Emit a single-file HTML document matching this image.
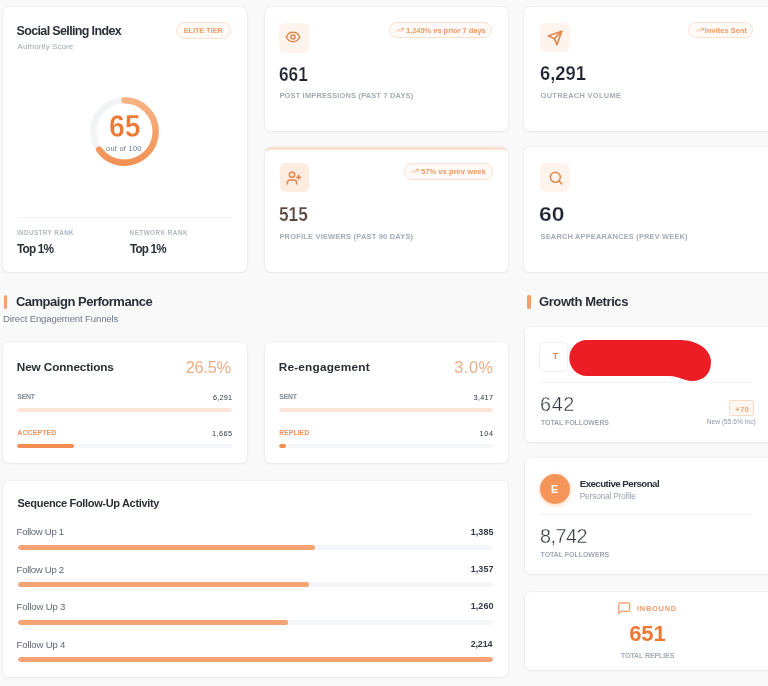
<!DOCTYPE html>
<html><head><meta charset="utf-8">
<style>
*{margin:0;padding:0;box-sizing:border-box}
html,body{width:768px;height:686px;overflow:hidden;background:#f9f9fa;font-family:"Liberation Sans",sans-serif;}
body{filter:blur(0.4px)}
.c{position:absolute;background:#fff;border-radius:6px;box-shadow:0 1px 3px rgba(30,35,45,.06),0 0 0 1px rgba(30,35,45,.028);}
.t{position:absolute;white-space:nowrap;}
.pill{position:absolute;border:1px solid #f9e1d2;border-radius:9px;background:#fffaf7}
.ico{position:absolute;border-radius:6px;background:#fef4ed}
.bar{position:absolute;border-radius:3px;background:#f5f6f9;overflow:hidden}
.fill{position:absolute;left:0;top:0;bottom:0;border-radius:3px;background:#f4a374}
.div{position:absolute;height:1px;background:#f1f2f4}
svg{position:absolute;overflow:visible}
</style></head><body>

<!-- cards -->
<div class="c" style="left:3px;top:7px;width:244px;height:264.5px"></div>
<div class="c" style="left:264.5px;top:7px;width:243.5px;height:123.5px"></div>
<div class="c" style="left:264.5px;top:147px;width:243.5px;height:124.5px;border-top:3px solid #fae2d3"></div>
<div class="c" style="left:524px;top:7px;width:252px;height:123.5px"></div>
<div class="c" style="left:524px;top:147px;width:252px;height:124.5px"></div>
<div class="c" style="left:3px;top:341.6px;width:244px;height:121.6px"></div>
<div class="c" style="left:264.5px;top:341.6px;width:243.5px;height:121.6px"></div>
<div class="c" style="left:2.5px;top:481px;width:505.5px;height:196px"></div>
<div class="c" style="left:525px;top:326.5px;width:252px;height:115.5px"></div>
<div class="c" style="left:525px;top:458.3px;width:252px;height:116.2px"></div>
<div class="c" style="left:525px;top:592px;width:252px;height:78.3px"></div>

<!-- Card A -->
<div class="pill" style="left:175.5px;top:22.3px;width:55.5px;height:16.4px"></div>
<svg style="left:89.7px;top:96.5px" width="69" height="69" viewBox="0 0 69 69">
  <circle cx="34.5" cy="34.5" r="31.2" fill="none" stroke="#f2f3f5" stroke-width="6.4"/>
  <defs><linearGradient id="dg" x1="1" y1="0" x2="0" y2="0"><stop offset="0" stop-color="#f8b285"/><stop offset="1" stop-color="#f29255"/></linearGradient></defs>
  <circle cx="34.5" cy="34.5" r="31.2" fill="none" stroke="url(#dg)" stroke-width="6.4" stroke-linecap="round" stroke-dasharray="127.4 1000" transform="rotate(-90 34.5 34.5)"/>
</svg>
<div class="div" style="left:17px;top:216.5px;width:215px"></div>

<!-- Card B -->
<div class="ico" style="left:279px;top:22.5px;width:30px;height:30px"></div>
<svg style="left:285.3px;top:29px" width="16" height="16" viewBox="0 0 24 24" fill="none" stroke="#e4874d" stroke-width="2.3" stroke-linecap="round" stroke-linejoin="round"><path d="M2 12s3-7 10-7 10 7 10 7-3 7-10 7-10-7-10-7Z"/><circle cx="12" cy="12" r="3"/></svg>
<div class="pill" style="left:389.2px;top:22.2px;width:103.3px;height:16px"></div>
<svg style="left:396px;top:25.5px" width="8" height="8" viewBox="0 0 24 24" fill="none" stroke="#ee9866" stroke-width="2.2" stroke-linecap="round" stroke-linejoin="round"><polyline points="22 7 13.5 15.5 8.5 10.5 2 17"/><polyline points="16 7 22 7 22 13"/></svg>

<!-- Card B2 -->
<div class="ico" style="left:279.5px;top:162.7px;width:29px;height:29px;background:#fdebdf"></div>
<svg style="left:285.5px;top:170.2px" width="16" height="16" viewBox="0 0 24 24" fill="none" stroke="#e4874d" stroke-width="2.3" stroke-linecap="round" stroke-linejoin="round"><path d="M16 21v-2a4 4 0 0 0-4-4H6a4 4 0 0 0-4 4v2"/><circle cx="9" cy="7" r="4"/><line x1="19" x2="19" y1="8" y2="14"/><line x1="22" x2="16" y1="11" y2="11"/></svg>
<div class="pill" style="left:403.5px;top:163.2px;width:89.3px;height:16.4px"></div>
<svg style="left:410.5px;top:166.8px" width="8" height="8" viewBox="0 0 24 24" fill="none" stroke="#ee9866" stroke-width="2.2" stroke-linecap="round" stroke-linejoin="round"><polyline points="22 7 13.5 15.5 8.5 10.5 2 17"/><polyline points="16 7 22 7 22 13"/></svg>

<!-- Card C -->
<div class="ico" style="left:540px;top:22.5px;width:30px;height:29px"></div>
<svg style="left:547.3px;top:29.7px" width="16" height="16" viewBox="0 0 24 24" fill="none" stroke="#e4874d" stroke-width="2.4" stroke-linecap="round" stroke-linejoin="round"><path d="m22 2-7 20-4-9-9-4Z"/><path d="M22 2 11 13"/></svg>
<div class="pill" style="left:688px;top:22.4px;width:65.3px;height:16.1px"></div>
<svg style="left:695.6px;top:25.7px" width="8" height="8" viewBox="0 0 24 24" fill="none" stroke="#ee9866" stroke-width="2.2" stroke-linecap="round" stroke-linejoin="round"><polyline points="22 7 13.5 15.5 8.5 10.5 2 17"/><polyline points="16 7 22 7 22 13"/></svg>

<!-- Card C2 -->
<div class="ico" style="left:540px;top:163px;width:30px;height:29px"></div>
<svg style="left:547.5px;top:169.5px" width="16" height="16" viewBox="0 0 24 24" fill="none" stroke="#e4874d" stroke-width="2.3" stroke-linecap="round" stroke-linejoin="round"><circle cx="11" cy="11" r="7.5"/><path d="m21 21-4.3-4.3"/></svg>

<!-- Section bars -->
<div style="position:absolute;left:4px;top:295px;width:3px;height:14px;border-radius:1.5px;background:#f2a06c"></div>
<div style="position:absolute;left:527px;top:295px;width:3.5px;height:14px;border-radius:1.5px;background:#f2a06c"></div>

<!-- Card D bars -->
<div class="bar" style="left:17.3px;top:408px;width:214.5px;height:4px;background:#fde4d8"></div>
<div class="bar" style="left:17.3px;top:444px;width:214.5px;height:4px"><div class="fill" style="width:56.5px;background:#f08c54"></div></div>
<!-- Card E bars -->
<div class="bar" style="left:279.3px;top:408px;width:213.5px;height:4px;background:#fde4d8"></div>
<div class="bar" style="left:279.3px;top:444px;width:213.5px;height:4px"><div class="fill" style="width:6.5px;background:#f08c54"></div></div>

<!-- Sequence bars -->
<div class="bar" style="left:17.5px;top:544.6px;width:475.4px;height:5.4px"><div class="fill" style="width:297.3px"></div></div>
<div class="bar" style="left:17.5px;top:582px;width:475.4px;height:5.4px"><div class="fill" style="width:291.3px"></div></div>
<div class="bar" style="left:17.5px;top:619.5px;width:475.4px;height:5.4px"><div class="fill" style="width:270.3px"></div></div>
<div class="bar" style="left:17.5px;top:657.1px;width:475.4px;height:5.4px"><div class="fill" style="width:475.4px"></div></div>

<!-- Card F -->
<div style="position:absolute;left:539.2px;top:341.9px;width:29px;height:29.7px;border:1px solid #eef0f3;border-radius:5px;background:#fff"></div>
<svg style="left:569px;top:339px" width="143" height="43" viewBox="0 0 143 43"><path d="M18 1 L112 1 C128 1.5 142 10 142 23 C142 36 133 42 123 42 C115 42 111 37.5 100 37 L18 37 C8 37 0.3 29 0.3 19 C0.3 9 8 1 18 1 Z" fill="#ec1d25"/></svg>
<div class="div" style="left:540px;top:382px;width:213px"></div>
<div style="position:absolute;left:729.1px;top:400.2px;width:25.4px;height:15.8px;border:1px solid #f8dac8;border-radius:2.5px;background:#fff6f0"></div>

<!-- Card G -->
<div style="position:absolute;left:540.2px;top:474px;width:30px;height:30px;border-radius:50%;background:#f5955a;box-shadow:0 1px 5px rgba(245,149,90,.45)"></div>
<div class="div" style="left:540px;top:513.5px;width:213px"></div>

<!-- Card H -->
<svg style="left:617px;top:601px" width="14.5" height="14.5" viewBox="0 0 24 24" fill="none" stroke="#ef9c68" stroke-width="2" stroke-linecap="round" stroke-linejoin="round"><path d="M21 15a2 2 0 0 1-2 2H7l-4 4V5a2 2 0 0 1 2-2h14a2 2 0 0 1 2 2z"/></svg>

<div class="t" style="left:16.50px;top:24.98px;font-size:12.50px;line-height:12.50px;font-weight:bold;color:#2b2f38;letter-spacing:-0.642px;">Social Selling Index</div>
<div class="t" style="left:17.50px;top:43.40px;font-size:8.00px;line-height:8.00px;font-weight:normal;color:#a0a8b4;letter-spacing:0.071px;">Authority Score</div>
<div class="t" style="left:183.70px;top:27.24px;font-size:7.60px;line-height:7.60px;font-weight:bold;color:#ef9f6f;letter-spacing:-0.200px;">ELITE TIER</div>
<div class="t" style="left:108.58px;top:111.25px;font-size:31.00px;line-height:31.00px;font-weight:bold;color:#ea7a36;transform:scaleX(0.918);transform-origin:0 0;-webkit-text-stroke:0.4px #fff;">65</div>
<div class="t" style="left:106.00px;top:145.01px;font-size:7.40px;line-height:7.40px;font-weight:normal;color:#6f7886;letter-spacing:0.278px;">out of 100</div>
<div class="t" style="left:16.90px;top:230.15px;font-size:6.30px;line-height:6.30px;font-weight:bold;color:#b0b7c2;letter-spacing:0.417px;">INDUSTRY RANK</div>
<div class="t" style="left:129.60px;top:230.15px;font-size:6.30px;line-height:6.30px;font-weight:bold;color:#b0b7c2;letter-spacing:0.491px;">NETWORK RANK</div>
<div class="t" style="left:17.40px;top:243.10px;font-size:12.00px;line-height:12.00px;font-weight:bold;color:#2b2f38;letter-spacing:-0.840px;transform:scaleX(0.984);transform-origin:0 0;">Top 1%</div>
<div class="t" style="left:129.60px;top:243.10px;font-size:12.00px;line-height:12.00px;font-weight:bold;color:#2b2f38;letter-spacing:-0.840px;transform:scaleX(0.974);transform-origin:0 0;">Top 1%</div>
<div class="t" style="left:278.51px;top:64.50px;font-size:19.30px;line-height:19.30px;font-weight:bold;color:#1f2430;transform:scaleX(0.894);transform-origin:0 0;-webkit-text-stroke:0.25px #fff;">661</div>
<div class="t" style="left:279.40px;top:91.51px;font-size:7.40px;line-height:7.40px;font-weight:bold;color:#a3aab5;letter-spacing:0.210px;">POST IMPRESSIONS (PAST 7 DAYS)</div>
<div class="t" style="left:406.00px;top:26.73px;font-size:7.50px;line-height:7.50px;font-weight:bold;color:#ee9866;letter-spacing:-0.033px;">1,249% vs prior 7 days</div>
<div class="t" style="left:278.51px;top:205.19px;font-size:19.30px;line-height:19.30px;font-weight:bold;color:#5a473f;transform:scaleX(0.894);transform-origin:0 0;-webkit-text-stroke:0.25px #fff;">515</div>
<div class="t" style="left:279.40px;top:232.71px;font-size:7.40px;line-height:7.40px;font-weight:bold;color:#a3aab5;letter-spacing:0.248px;">PROFILE VIEWERS (PAST 90 DAYS)</div>
<div class="t" style="left:421.00px;top:167.82px;font-size:7.50px;line-height:7.50px;font-weight:bold;color:#ee9866;letter-spacing:0.067px;">57% vs prev week</div>
<div class="t" style="left:539.65px;top:64.30px;font-size:19.30px;line-height:19.30px;font-weight:bold;color:#1f2430;transform:scaleX(0.951);transform-origin:0 0;-webkit-text-stroke:0.25px #fff;">6,291</div>
<div class="t" style="left:540.60px;top:91.91px;font-size:7.40px;line-height:7.40px;font-weight:bold;color:#a3aab5;letter-spacing:0.336px;">OUTREACH VOLUME</div>
<div class="t" style="left:704.80px;top:26.83px;font-size:7.50px;line-height:7.50px;font-weight:bold;color:#ee9866;letter-spacing:0.018px;">Invites Sent</div>
<div class="t" style="left:539.42px;top:204.90px;font-size:19.30px;line-height:19.30px;font-weight:bold;color:#1f2430;transform:scaleX(1.185);transform-origin:0 0;-webkit-text-stroke:0.25px #fff;">60</div>
<div class="t" style="left:540.60px;top:232.71px;font-size:7.40px;line-height:7.40px;font-weight:bold;color:#a3aab5;letter-spacing:0.207px;">SEARCH APPEARANCES (PREV WEEK)</div>
<div class="t" style="left:15.90px;top:294.95px;font-size:13.00px;line-height:13.00px;font-weight:bold;color:#2b2f38;letter-spacing:-0.484px;">Campaign Performance</div>
<div class="t" style="left:3.00px;top:313.84px;font-size:9.60px;line-height:9.60px;font-weight:normal;color:#6f7a8a;letter-spacing:-0.150px;">Direct Engagement Funnels</div>
<div class="t" style="left:539.00px;top:294.95px;font-size:13.00px;line-height:13.00px;font-weight:bold;color:#2b2f38;letter-spacing:-0.400px;">Growth Metrics</div>
<div class="t" style="left:16.80px;top:362.07px;font-size:11.80px;line-height:11.80px;font-weight:bold;color:#2b2f38;letter-spacing:-0.136px;">New Connections</div>
<div class="t" style="left:185.70px;top:359.04px;font-size:16.30px;line-height:16.30px;font-weight:normal;color:#eeac84;letter-spacing:-0.200px;">26.5%</div>
<div class="t" style="left:17.30px;top:393.53px;font-size:6.90px;line-height:6.90px;font-weight:bold;color:#7d8797;letter-spacing:-0.267px;">SENT</div>
<div class="t" style="left:213.00px;top:393.50px;font-size:7.30px;line-height:7.30px;font-weight:normal;color:#2f3540;letter-spacing:0.200px;">6,291</div>
<div class="t" style="left:17.30px;top:430.03px;font-size:6.90px;line-height:6.90px;font-weight:bold;color:#ef9160;letter-spacing:0.157px;">ACCEPTED</div>
<div class="t" style="left:212.00px;top:429.69px;font-size:7.30px;line-height:7.30px;font-weight:normal;color:#2f3540;letter-spacing:0.450px;">1,665</div>
<div class="t" style="left:278.70px;top:361.67px;font-size:11.80px;line-height:11.80px;font-weight:bold;color:#2b2f38;letter-spacing:0.208px;">Re-engagement</div>
<div class="t" style="left:454.30px;top:359.04px;font-size:16.30px;line-height:16.30px;font-weight:normal;color:#eeac84;letter-spacing:0.500px;">3.0%</div>
<div class="t" style="left:279.30px;top:393.53px;font-size:6.90px;line-height:6.90px;font-weight:bold;color:#7d8797;letter-spacing:-0.267px;">SENT</div>
<div class="t" style="left:473.50px;top:393.50px;font-size:7.30px;line-height:7.30px;font-weight:normal;color:#2f3540;letter-spacing:0.325px;">3,417</div>
<div class="t" style="left:279.30px;top:430.03px;font-size:6.90px;line-height:6.90px;font-weight:bold;color:#ef9160;">REPLIED</div>
<div class="t" style="left:479.60px;top:429.69px;font-size:7.30px;line-height:7.30px;font-weight:normal;color:#2f3540;letter-spacing:0.600px;">104</div>
<div class="t" style="left:17.60px;top:497.95px;font-size:11.00px;line-height:11.00px;font-weight:bold;color:#2b2f38;letter-spacing:-0.338px;">Sequence Follow-Up Activity</div>
<div class="t" style="left:16.60px;top:527.34px;font-size:9.60px;line-height:9.60px;font-weight:normal;color:#5f6775;letter-spacing:-0.310px;">Follow Up 1</div>
<div class="t" style="left:470.80px;top:527.55px;font-size:9.00px;line-height:9.00px;font-weight:bold;color:#343944;letter-spacing:0.025px;">1,385</div>
<div class="t" style="left:16.60px;top:565.04px;font-size:9.60px;line-height:9.60px;font-weight:normal;color:#5f6775;letter-spacing:-0.310px;">Follow Up 2</div>
<div class="t" style="left:470.80px;top:565.25px;font-size:9.00px;line-height:9.00px;font-weight:bold;color:#343944;letter-spacing:0.025px;">1,357</div>
<div class="t" style="left:16.60px;top:602.04px;font-size:9.60px;line-height:9.60px;font-weight:normal;color:#5f6775;letter-spacing:-0.180px;">Follow Up 3</div>
<div class="t" style="left:470.80px;top:602.25px;font-size:9.00px;line-height:9.00px;font-weight:bold;color:#343944;letter-spacing:0.025px;">1,260</div>
<div class="t" style="left:16.60px;top:639.64px;font-size:9.60px;line-height:9.60px;font-weight:normal;color:#5f6775;letter-spacing:-0.180px;">Follow Up 4</div>
<div class="t" style="left:470.80px;top:639.85px;font-size:9.00px;line-height:9.00px;font-weight:bold;color:#343944;letter-spacing:-0.225px;">2,214</div>
<div class="t" style="left:552.70px;top:351.85px;font-size:9.00px;line-height:9.00px;font-weight:bold;color:#e8884a;">T</div>
<div class="t" style="left:540.00px;top:395.17px;font-size:19.80px;line-height:19.80px;font-weight:normal;color:#30353e;letter-spacing:0.650px;-webkit-text-stroke:0.35px #fff;">642</div>
<div class="t" style="left:541.00px;top:418.85px;font-size:7.00px;line-height:7.00px;font-weight:bold;color:#a0a7b2;letter-spacing:-0.086px;">TOTAL FOLLOWERS</div>
<div class="t" style="left:735.20px;top:405.95px;font-size:7.00px;line-height:7.00px;font-weight:bold;color:#ef9f6f;letter-spacing:0.850px;">+70</div>
<div class="t" style="left:706.80px;top:419.39px;font-size:6.60px;line-height:6.60px;font-weight:normal;color:#8b96a8;letter-spacing:0.014px;">New (55.6% Inc)</div>
<div class="t" style="left:551.00px;top:483.68px;font-size:10.50px;line-height:10.50px;font-weight:bold;color:#ffffff;">E</div>
<div class="t" style="left:579.70px;top:479.06px;font-size:9.70px;line-height:9.70px;font-weight:bold;color:#2b2f38;letter-spacing:-0.524px;">Executive Personal</div>
<div class="t" style="left:579.70px;top:491.94px;font-size:8.30px;line-height:8.30px;font-weight:normal;color:#97a1b0;letter-spacing:-0.153px;">Personal Profile</div>
<div class="t" style="left:540.00px;top:527.17px;font-size:19.80px;line-height:19.80px;font-weight:normal;color:#30353e;letter-spacing:-0.475px;-webkit-text-stroke:0.35px #fff;">8,742</div>
<div class="t" style="left:540.60px;top:551.35px;font-size:7.00px;line-height:7.00px;font-weight:bold;color:#a0a7b2;letter-spacing:-0.043px;">TOTAL FOLLOWERS</div>
<div class="t" style="left:637.00px;top:604.81px;font-size:7.40px;line-height:7.40px;font-weight:bold;color:#ef9c68;letter-spacing:0.783px;">INBOUND</div>
<div class="t" style="left:629.20px;top:622.90px;font-size:22.00px;line-height:22.00px;font-weight:bold;color:#ea7a36;letter-spacing:-0.050px;">651</div>
<div class="t" style="left:620.80px;top:652.05px;font-size:7.00px;line-height:7.00px;font-weight:bold;color:#a3abb7;letter-spacing:-0.067px;">TOTAL REPLIES</div>
</body></html>
